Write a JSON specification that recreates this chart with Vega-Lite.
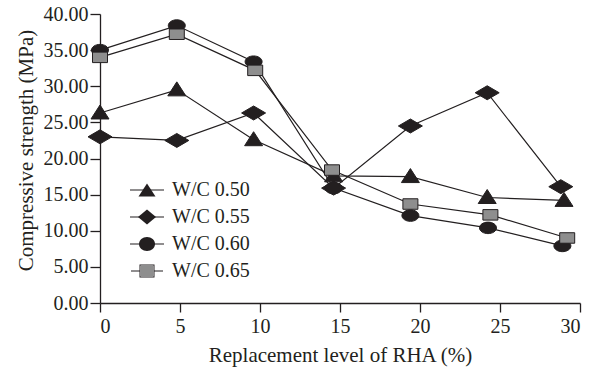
{
  "$schema": "https://vega.github.io/schema/vega-lite/v6.json",
  "width": 480,
  "height": 289,
  "autosize": "none",
  "padding": {"left": 100, "top": 14, "right": 16, "bottom": 69},
  "background": "white",
  "config": {
    "view": {"stroke": null},
    "font": "Liberation Serif",
    "axis": {"grid": false, "domainColor": "#231f20", "tickColor": "#231f20", "labelColor": "#231f20", "titleColor": "#231f20", "labelFont": "Liberation Serif", "titleFont": "Liberation Serif", "titleFontWeight": "normal", "domainWidth": 1.3, "tickWidth": 1.3}
  },
  "data": {
    "values": [
      {"series": "W/C 0.50", "x": 0, "y": 26.3},
      {"series": "W/C 0.50", "x": 4.8, "y": 29.5},
      {"series": "W/C 0.50", "x": 9.6, "y": 22.6},
      {"series": "W/C 0.50", "x": 14.6, "y": 17.6},
      {"series": "W/C 0.50", "x": 19.4, "y": 17.5},
      {"series": "W/C 0.50", "x": 24.2, "y": 14.6},
      {"series": "W/C 0.50", "x": 29.0, "y": 14.2},
      {"series": "W/C 0.55", "x": 0, "y": 23.0},
      {"series": "W/C 0.55", "x": 4.8, "y": 22.5},
      {"series": "W/C 0.55", "x": 9.6, "y": 26.3},
      {"series": "W/C 0.55", "x": 14.6, "y": 15.9},
      {"series": "W/C 0.55", "x": 19.4, "y": 24.5},
      {"series": "W/C 0.55", "x": 24.2, "y": 29.1},
      {"series": "W/C 0.55", "x": 28.8, "y": 16.1},
      {"series": "W/C 0.60", "x": 0, "y": 35.0},
      {"series": "W/C 0.60", "x": 4.8, "y": 38.4},
      {"series": "W/C 0.60", "x": 9.6, "y": 33.4},
      {"series": "W/C 0.60", "x": 14.6, "y": 15.9},
      {"series": "W/C 0.60", "x": 19.4, "y": 12.1},
      {"series": "W/C 0.60", "x": 24.25, "y": 10.4},
      {"series": "W/C 0.60", "x": 28.9, "y": 7.9},
      {"series": "W/C 0.65", "x": 0, "y": 34.0},
      {"series": "W/C 0.65", "x": 4.8, "y": 37.2},
      {"series": "W/C 0.65", "x": 9.7, "y": 32.2},
      {"series": "W/C 0.65", "x": 14.5, "y": 18.4},
      {"series": "W/C 0.65", "x": 19.4, "y": 13.7},
      {"series": "W/C 0.65", "x": 24.4, "y": 12.2},
      {"series": "W/C 0.65", "x": 29.2, "y": 9.0}
    ]
  },
  "encoding": {
    "x": {
      "field": "x", "type": "quantitative",
      "scale": {"domain": [0, 30], "nice": false, "zero": false},
      "axis": {"values": [0, 5, 10, 15, 20, 25, 30], "title": "Replacement level of RHA (%)", "labelFontSize": 20, "titleFontSize": 21, "tickSize": 9, "labelPadding": 4, "titlePadding": 8}
    },
    "y": {
      "field": "y", "type": "quantitative",
      "scale": {"domain": [0, 40], "nice": false},
      "axis": {"values": [0, 5, 10, 15, 20, 25, 30, 35, 40], "format": ".2f", "title": "Compressive strength (MPa)", "labelFontSize": 20, "titleFontSize": 21, "tickSize": 10, "labelPadding": 2, "titlePadding": 7, "titleY": 136}
    }
  },
  "layer": [
    {
      "mark": {"type": "line", "color": "#231f20", "strokeWidth": 1.2},
      "encoding": {"detail": {"field": "series"}, "order": {"field": "x"}}
    },
    {
      "mark": {"type": "point", "filled": true, "stroke": "#231f20", "strokeWidth": 1, "opacity": 1, "size": 4},
      "encoding": {
        "shape": {
          "field": "series", "legend": null,
          "scale": {"domain": ["W/C 0.50", "W/C 0.55", "W/C 0.60", "W/C 0.65"], "range": [
            "M0,-8L9,6L-9,6Z",
            "M-12,0L0,-7L12,0L0,7Z",
            "M-8.5,0C-8.5,-3.18 -4.69,-5.75 0,-5.75C4.69,-5.75 8.5,-3.18 8.5,0C8.5,3.18 4.69,5.75 0,5.75C-4.69,5.75 -8.5,3.18 -8.5,0Z",
            "M-7.5,-5.25H7.5V5.25H-7.5Z"
          ]}
        },
        "fill": {
          "field": "series", "legend": null,
          "scale": {"domain": ["W/C 0.50", "W/C 0.55", "W/C 0.60", "W/C 0.65"], "range": ["#231f20", "#231f20", "#231f20", "#8e8e8e"]}
        }
      }
    },
    {
      "transform": [{"filter": "datum.x < 0"}],
      "mark": {"type": "point", "filled": true, "color": "#231f20", "size": 4, "opacity": 1},
      "encoding": {
        "shape": {
          "field": "series", "title": null,
          "scale": {"domain": ["W/C 0.50", "W/C 0.55", "W/C 0.60", "W/C 0.65"], "range": [
            "M-17,-0.6H-4H4H17V0.6H-17Z",
            "M-17,-0.6H17V0.6H-17Z",
            "M-17,-0.6H17V0.6H-17Z",
            "M-16,-0.6H-7.5V0.6H-16Z M7.5,-0.6H16V0.6H7.5Z M-7.5,-6.5H7.5V6.5H-7.5Z M-6.5,-5.5V5.5H6.5V-5.5Z"
          ]},
          "legend": {
            "orient": "none", "legendX": 37, "legendY": 166, "padding": 0,
            "symbolSize": 4, "labelFontSize": 20, "labelFont": "Liberation Serif", "labelColor": "#231f20",
            "labelOffset": 15, "rowPadding": 7, "symbolOpacity": 1, "symbolStrokeWidth": 0
          }
        }
      }
    },
    {
      "transform": [{"filter": "datum.x < 0"}],
      "mark": {"type": "point", "filled": true, "size": 4, "opacity": 1},
      "encoding": {
        "shape": {
          "field": "series", "title": null,
          "scale": {"domain": ["W/C 0.50", "W/C 0.55", "W/C 0.60", "W/C 0.65"], "range": [
            "M0,-6.5L8.5,6.5L-8.5,6.5Z",
            "M-9,0L0,-7.5L9,0L0,7.5Z",
            "M-8,0C-8,-3.87 -4.42,-7 0,-7C4.42,-7 8,-3.87 8,0C8,3.87 4.42,7 0,7C-4.42,7 -8,3.87 -8,0Z",
            "M-6.5,-5.5H6.5V5.5H-6.5Z"
          ]},
          "legend": {
            "orient": "none", "legendX": 37, "legendY": 166, "padding": 0,
            "symbolSize": 4, "labelFontSize": 20, "labelFont": "Liberation Serif", "labelOpacity": 0,
            "labelOffset": 15, "rowPadding": 7, "symbolOpacity": 1, "symbolStrokeWidth": 0
          }
        },
        "fill": {
          "field": "series",
          "scale": {"domain": ["W/C 0.50", "W/C 0.55", "W/C 0.60", "W/C 0.65"], "range": ["#231f20", "#231f20", "#231f20", "#8e8e8e"]}
        }
      }
    }
  ],
  "resolve": {"scale": {"shape": "independent", "fill": "independent"}}
}
